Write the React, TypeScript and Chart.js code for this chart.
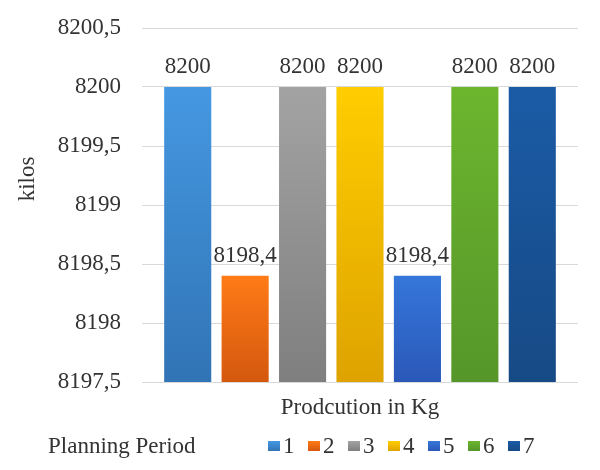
import { useEffect, useRef } from "react";
import { Chart, registerables } from "chart.js";

Chart.register(...registerables);

const periods = ["1", "2", "3", "4", "5", "6", "7"];
const production = [8200, 8198.4, 8200, 8200, 8198.4, 8200, 8200];
const topColors = ["#4598e2", "#ff7b17", "#a3a3a3", "#ffcd00", "#3577da", "#6cb62e", "#1b5ba6"];
const bottomColors = ["#3174b5", "#d4580e", "#7f7f7f", "#dea300", "#2a58b8", "#56962a", "#164a85"];
const yMin = 8197.5;
const yMax = 8200.5;
const yStep = 0.5;
const xTitle = "Prodcution in Kg";
const yTitle = "kilos";
const legendTitle = "Planning Period";

const FONT = '23px "Liberation Serif", serif';
const TEXT = "#333333";

// comma as decimal separator, like the original
const fmt = (v: number) => String(Math.round(v * 10) / 10).replace(".", ",");

const drawText = (
  ctx: CanvasRenderingContext2D,
  text: string,
  x: number,
  y: number,
  align: CanvasTextAlign,
  baseline: CanvasTextBaseline,
  rotate = false
) => {
  ctx.save();
  ctx.translate(x, y);
  if (rotate) ctx.rotate(-Math.PI / 2);
  ctx.font = FONT;
  ctx.fillStyle = TEXT;
  ctx.textAlign = align;
  ctx.textBaseline = baseline;
  ctx.fillText(text, 0, 0);
  ctx.restore();
};

const barFill = (i: number) => (c: any) => {
  const chart = c.chart;
  const area = chart.chartArea;
  if (!area || !chart.scales.y) return topColors[i];
  const v = typeof c.raw === "number" ? c.raw : production[i];
  const top = chart.scales.y.getPixelForValue(v);
  const g = chart.ctx.createLinearGradient(0, top, 0, area.bottom);
  g.addColorStop(0, topColors[i]);
  g.addColorStop(1, bottomColors[i]);
  return g;
};

const overlay = {
  id: "overlay",
  afterDatasetsDraw(chart: Chart) {
    const { ctx } = chart;
    // value labels above the bars
    chart.data.datasets.forEach((ds, i) => {
      const bar = chart.getDatasetMeta(i).data[0];
      drawText(ctx, fmt(ds.data[0] as number), bar.x, bar.y - 14, "center", "alphabetic");
    });
  },
  afterDraw(chart: Chart) {
    const { ctx, chartArea } = chart;
    const y = chart.scales.y;

    // y tick labels
    y.ticks.forEach((t) => {
      drawText(ctx, fmt(t.value), chartArea.left - 21, y.getPixelForValue(t.value), "right", "middle");
    });

    // axis titles
    drawText(ctx, yTitle, 28, 179, "center", "middle", true);
    drawText(ctx, xTitle, (chartArea.left + chartArea.right) / 2, 408, "center", "middle");

    // legend row with inline title
    drawText(ctx, legendTitle, 48, 453, "left", "alphabetic");
    chart.data.datasets.forEach((ds, i) => {
      const x = 268 + i * 40;
      const g = ctx.createLinearGradient(0, 441, 0, 451);
      g.addColorStop(0, topColors[i]);
      g.addColorStop(1, bottomColors[i]);
      ctx.save();
      ctx.fillStyle = g;
      ctx.fillRect(x, 441, 12, 10);
      ctx.restore();
      drawText(ctx, String(ds.label), x + 15, 453, "left", "alphabetic");
    });
  },
};

// the first text drawn in the serif face falls back to sans, so burn that on throwaway strings
const warmUpFont = (ctx: CanvasRenderingContext2D) => {
  const scratch = document.createElement("canvas").getContext("2d");
  [scratch, ctx].forEach((c, k) => {
    if (!c) return;
    c.save();
    c.fillStyle = "#ffffff";
    c.font = `${11 + k}px "Liberation Serif"`;
    c.fillText("Planning 8200,5", 0, 12);
    c.font = `italic ${9 + k}px "Liberation Serif", serif`;
    c.fillText("Planning 8200,5", 0, 24);
    c.restore();
  });
};

const ProductionChart = () => {
  const chartRef = useRef<HTMLCanvasElement>(null);
  const chartInstanceRef = useRef<Chart | null>(null);

  useEffect(() => {
    if (!chartRef.current) return;
    const ctx = chartRef.current.getContext("2d");
    if (!ctx) return;
    if (chartInstanceRef.current) chartInstanceRef.current.destroy();

    warmUpFont(ctx);

    chartInstanceRef.current = new Chart(ctx, {
      type: "bar",
      data: {
        labels: [""],
        datasets: periods.map((p, i) => ({
          label: p,
          data: [production[i]],
          backgroundColor: barFill(i),
          borderWidth: 0,
          categoryPercentage: 0.922,
          barPercentage: 0.82,
        })),
      },
      options: {
        responsive: true,
        maintainAspectRatio: false,
        animation: false,
        layout: { padding: { top: 28, right: 22, bottom: 0, left: 0 } },
        plugins: {
          legend: { display: false },
          tooltip: { enabled: false },
        },
        scales: {
          x: {
            grid: { display: false },
            border: { display: false },
            ticks: { display: false },
            afterFit: (s: any) => {
              s.height = 88;
            },
          },
          y: {
            min: yMin,
            max: yMax,
            grid: { color: "#d9d9d9", drawTicks: false },
            border: { display: false },
            ticks: { stepSize: yStep, display: false },
            afterFit: (s: any) => {
              s.width = 142;
            },
          },
        },
      },
      plugins: [overlay],
    });

    return () => {
      if (chartInstanceRef.current) {
        chartInstanceRef.current.destroy();
        chartInstanceRef.current = null;
      }
    };
  }, []);

  return (
    <div style={{ position: "fixed", left: 0, top: 0, width: 600, height: 470, background: "#fff" }}>
      <canvas ref={chartRef}></canvas>
    </div>
  );
};

export default function App() {
  return <ProductionChart />;
}
